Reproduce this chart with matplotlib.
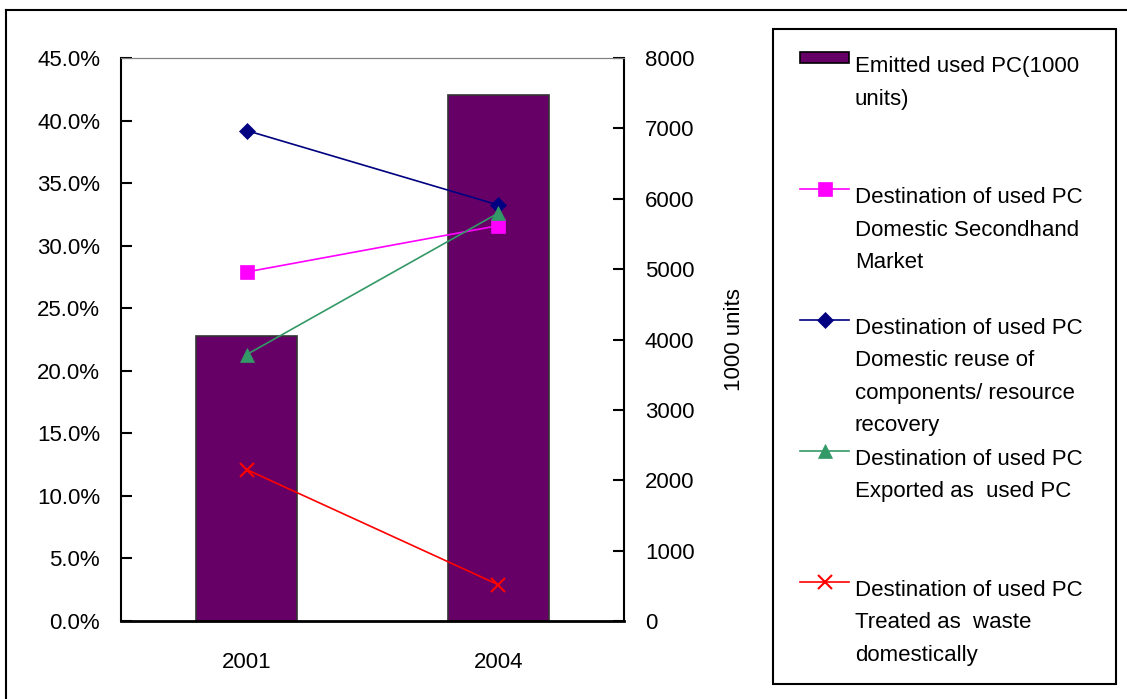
import matplotlib
matplotlib.use("Agg")
import matplotlib.pyplot as plt
from matplotlib.lines import Line2D
from matplotlib.patches import Rectangle
from matplotlib.ticker import FuncFormatter, MultipleLocator, FixedLocator

plt.rcParams['font.family'] = ['Liberation Sans', 'DejaVu Sans']

years = ["2001", "2004"]
emitted = [4050, 7470]  # 1000 units
secondhand = [27.9, 31.6]
reuse = [39.2, 33.25]
exported = [21.3, 32.6]
waste = [12.1, 2.9]

bar_label = ["Emitted used PC(1000", "units)"]
line_series = [
    (secondhand, ["Destination of used PC", "Domestic Secondhand", "Market"], "#FF00FF", "s", 10),
    (reuse, ["Destination of used PC", "Domestic reuse of", "components/ resource", "recovery"], "#000080", "D", 8),
    (exported, ["Destination of used PC", "Exported as  used PC"], "#339966", "^", 10),
    (waste, ["Destination of used PC", "Treated as  waste", "domestically"], "#FF0000", "x", 10),
]

W, H = 1127, 699
fig = plt.figure(figsize=(W / 100, H / 100), dpi=100)
FS = 16

def fx(px):
    return px / W

def fy(py):
    return 1 - py / H

ax = fig.add_axes([fx(121), fy(621), fx(624) - fx(121), fy(58) - fy(621)])
ax2 = ax.twinx()
ax.set_zorder(2)
ax.patch.set_visible(False)
ax2.set_zorder(1)

x = list(range(len(years)))
ax2.bar(x, emitted, width=0.4, color="#660066", edgecolor="#333333", linewidth=1.2)
for vals, lab, col, mk, ms in line_series:
    ax.plot(x, vals, color=col, marker=mk, markersize=ms, linewidth=1.2,
            markeredgewidth=1.5 if mk == "x" else 0.5)

ax.set_xlim(-0.5, 1.5)
ax.set_ylim(0, 45)
ax2.set_ylim(0, 8000)
ax.yaxis.set_major_locator(MultipleLocator(5))
ax.yaxis.set_major_formatter(FuncFormatter(lambda v, p: f"{v:.1f}%"))
ax2.yaxis.set_major_locator(MultipleLocator(1000))

ax.xaxis.set_major_locator(FixedLocator([-0.5, 0.5, 1.5]))
ax.xaxis.set_minor_locator(FixedLocator(x))
ax.set_xticklabels([], minor=False)
ax.set_xticks(x, years, minor=True)
ax.tick_params(axis='x', which='minor', length=0, pad=22, labelsize=FS)
ax.tick_params(axis='x', which='major', direction='in', length=8, width=1.5)
ax.tick_params(axis='y', direction='in', length=8, width=1.5, labelsize=FS, pad=15)
ax2.tick_params(axis='y', direction='in', length=8, width=1.5, labelsize=FS, pad=15)
ax2.set_xticks([])

for a in (ax, ax2):
    a.spines['top'].set_color('#808080')
    a.spines['left'].set_linewidth(1.5)
    a.spines['bottom'].set_linewidth(2)
    a.spines['right'].set_linewidth(1.5)
ax.spines['right'].set_visible(False)
ax2.spines['left'].set_visible(False)
ax2.spines['bottom'].set_visible(False)

fig.text(fx(735), fy(340), "1000 units", rotation=90, ha='center', va='center', fontsize=FS)

# outer border
fig.add_artist(Line2D([fx(6), 1.0], [fy(10), fy(10)], color='black', linewidth=1.5))
fig.add_artist(Line2D([fx(6), fx(6)], [fy(10), 0.0], color='black', linewidth=1.5))

# legend box
fig.add_artist(Rectangle((fx(773), fy(684)), fx(1116) - fx(773), fy(29) - fy(684),
                         fill=False, edgecolor='black', linewidth=1.5))

hx0, hx1, tx = 800, 849, 855
base0, step, lstep = 72, 131, 32.5
# bar entry
fig.add_artist(Rectangle((fx(hx0), fy(63)), fx(hx1) - fx(hx0), fy(52) - fy(63),
                         facecolor="#660066", edgecolor="black", linewidth=1.2))
for j, line in enumerate(bar_label):
    fig.text(fx(tx), fy(base0 + j * lstep), line, fontsize=FS, va='baseline', ha='left')
for i, (vals, lab, col, mk, ms) in enumerate(line_series):
    b = base0 + (i + 1) * step
    hy = b - 14
    fig.add_artist(Line2D([fx(hx0), fx(hx1)], [fy(hy), fy(hy)], color=col, linewidth=1.2))
    fig.add_artist(Line2D([fx((hx0 + hx1) / 2)], [fy(hy)], color=col, marker=mk, markersize=ms,
                          markeredgewidth=1.5 if mk == "x" else 0.5))
    for j, line in enumerate(lab):
        fig.text(fx(tx), fy(b + j * lstep), line, fontsize=FS, va='baseline', ha='left')

fig.savefig("out.png", dpi=100)
